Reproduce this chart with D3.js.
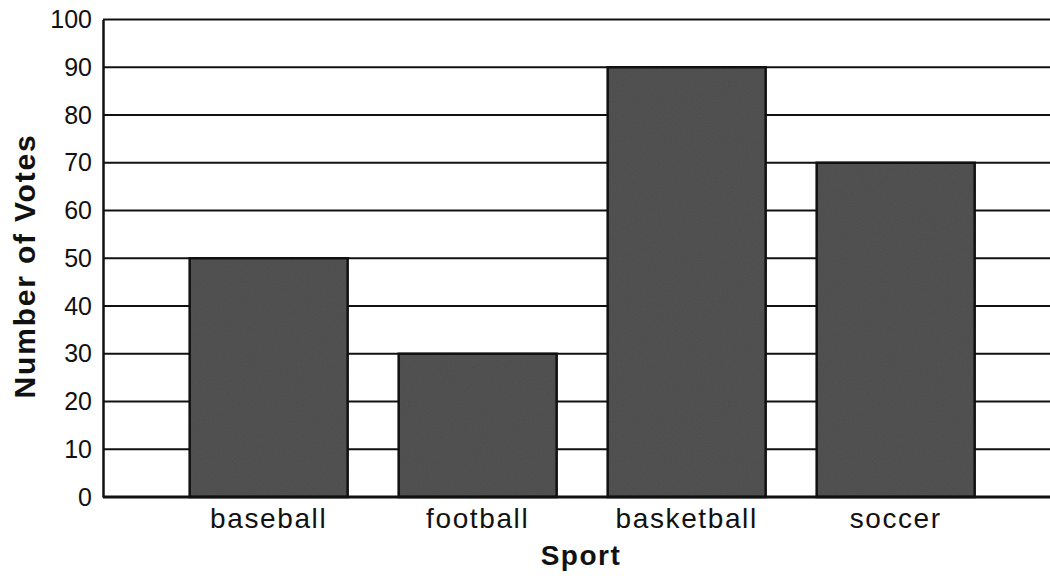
<!DOCTYPE html>
<html>
<head>
<meta charset="utf-8">
<script src="https://cdn.jsdelivr.net/npm/d3@7"></script>
<style>
  body { margin: 0; background: #fff; }
  svg { display: block; font-family: "Liberation Sans", Arial, sans-serif; }
</style>
</head>
<body>
<svg id="chart" width="1050" height="578"></svg>
<script>
const sports = ["baseball", "football", "basketball", "soccer"];
const votes = [50, 30, 90, 70];
const yTicks = [0, 10, 20, 30, 40, 50, 60, 70, 80, 90, 100];

const svg = d3.select("#chart");
const plotLeft = 103, plotRight = 1050, plotTop = 19.5, plotBottom = 497;

const x = d3.scaleBand()
  .domain(sports)
  .range([plotLeft, plotRight])
  .paddingInner(0.244)
  .paddingOuter(0.3875)
  .align(0.535);

const y = d3.scaleLinear()
  .domain([0, 100])
  .range([plotBottom, plotTop]);

// subtle print grain for the bars
const defs = svg.append("defs");
const f = defs.append("filter").attr("id", "grain")
  .attr("x", 0).attr("y", 0).attr("width", 1).attr("height", 1)
  .attr("color-interpolation-filters", "sRGB");
f.append("feTurbulence").attr("type", "fractalNoise").attr("baseFrequency", 0.8)
  .attr("numOctaves", 2).attr("seed", 3).attr("result", "noise");
f.append("feColorMatrix").attr("in", "noise").attr("type", "matrix")
  .attr("values", "0 0 0 0 0.4  0 0 0 0 0.4  0 0 0 0 0.4  0 0 0 0.35 0").attr("result", "tint");
f.append("feComposite").attr("in", "tint").attr("in2", "SourceGraphic").attr("operator", "atop");

// gridlines
svg.append("g")
  .selectAll("line")
  .data(yTicks.filter(d => d > 0))
  .join("line")
  .attr("x1", plotLeft)
  .attr("x2", plotRight)
  .attr("y1", d => y(d))
  .attr("y2", d => y(d))
  .attr("stroke", "#111")
  .attr("stroke-width", 2);

// y axis
const yAxis = svg.append("g")
  .attr("transform", `translate(${plotLeft},0)`)
  .call(d3.axisLeft(y).tickValues(yTicks).tickSize(0).tickPadding(11));
yAxis.select(".domain").attr("stroke", "#111").attr("stroke-width", 2.5);
yAxis.selectAll("text")
  .attr("font-size", 25)
  .attr("fill", "#111")
  .attr("font-family", "Liberation Sans, Arial, sans-serif");

// bars: grainy fill, then outline on top
const bars = svg.append("g");
bars.selectAll("rect.fill")
  .data(sports)
  .join("rect")
  .attr("class", "fill")
  .attr("x", d => x(d))
  .attr("y", (d, i) => y(votes[i]))
  .attr("width", x.bandwidth())
  .attr("height", (d, i) => y(0) - y(votes[i]))
  .attr("fill", "#4b4b4b")
  .attr("filter", "url(#grain)");

bars.selectAll("rect.edge")
  .data(sports)
  .join("rect")
  .attr("class", "edge")
  .attr("x", d => x(d))
  .attr("y", (d, i) => y(votes[i]))
  .attr("width", x.bandwidth())
  .attr("height", (d, i) => y(0) - y(votes[i]))
  .attr("fill", "none")
  .attr("stroke", "#111")
  .attr("stroke-width", 2.5);

// baseline
svg.append("line")
  .attr("x1", plotLeft)
  .attr("x2", plotRight)
  .attr("y1", y(0))
  .attr("y2", y(0))
  .attr("stroke", "#111")
  .attr("stroke-width", 3);

// x axis labels
const xAxis = svg.append("g")
  .attr("transform", `translate(0,${plotBottom})`)
  .call(d3.axisBottom(x).tickSize(0).tickPadding(11));
xAxis.select(".domain").remove();
xAxis.selectAll("text")
  .attr("font-size", 28)
  .attr("letter-spacing", "1.6px")
  .attr("fill", "#111")
  .attr("font-family", "Liberation Sans, Arial, sans-serif");

// axis titles
svg.append("text")
  .attr("x", 581)
  .attr("y", 565)
  .attr("text-anchor", "middle")
  .attr("font-size", 28)
  .attr("font-weight", "bold")
  .attr("letter-spacing", "1.5px")
  .attr("fill", "#111")
  .text("Sport");

svg.append("text")
  .attr("transform", `translate(35,266) rotate(-90)`)
  .attr("text-anchor", "middle")
  .attr("font-size", 30)
  .attr("font-weight", "bold")
  .attr("letter-spacing", "1.8px")
  .attr("fill", "#111")
  .text("Number of Votes");
</script>
</body>
</html>
